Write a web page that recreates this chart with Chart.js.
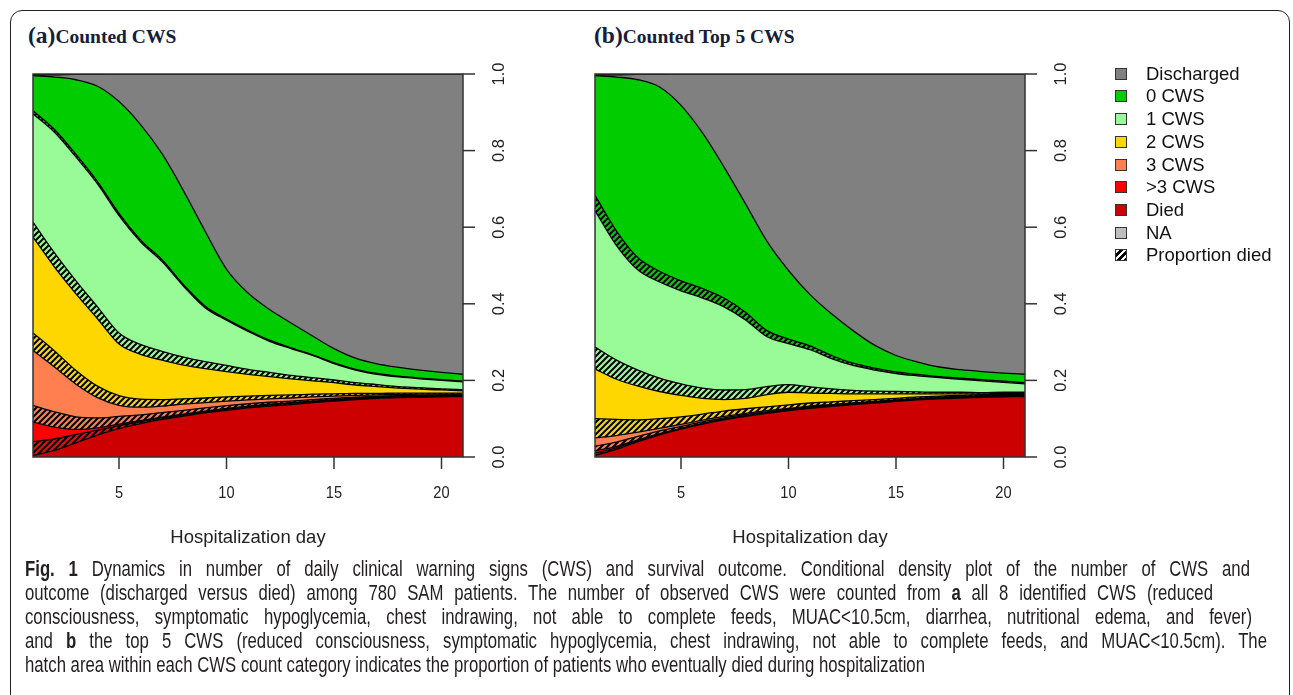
<!DOCTYPE html>
<html>
<head>
<meta charset="utf-8">
<script src="https://cdn.jsdelivr.net/npm/chart.js@4"></script>
<style>
  body { margin: 0; background: #fff; width: 1293px; height: 695px; overflow: hidden; position: relative; font-family: "Liberation Sans", Arial, sans-serif; }
  .frame { position: absolute; left: 10px; top: 10px; width: 1280px; height: 760px; border: 1.5px solid #222; border-radius: 12px; box-sizing: border-box; }
  .ptitle { position: absolute; top: 23px; line-height: 24px; font-family: "Liberation Serif", "Times New Roman", serif; font-weight: bold; color: #14203a; white-space: nowrap; }
  .ptitle .tag { font-size: 23.5px; }
  .ptitle .txt { font-size: 19.5px; }
  canvas { position: absolute; top: 0; }
  .leg { position: absolute; left: 1115px; font-size: 18.5px; color: #111; white-space: nowrap; }
  .leg .sw { position: absolute; left: 0; top: 5px; width: 10px; height: 10px; border: 1px solid #333; }
  .leg .lab { position: absolute; left: 31px; top: 0; line-height: 21px; }
  .cap { position: absolute; left: 25px; font-size: 21.5px; line-height: 23px; color: #231f20; white-space: nowrap; transform-origin: 0 50%; font-family: "Liberation Sans", Arial, sans-serif; }
</style>
</head>
<body>
<div class="frame"></div>
<div class="ptitle" style="left:28px"><span class="tag">(a)</span><span class="txt">Counted CWS</span></div>
<div class="ptitle" style="left:594px"><span class="tag">(b)</span><span class="txt">Counted Top 5 CWS</span></div>
<canvas id="panelA" width="600" height="560" style="left:0"></canvas>
<canvas id="panelB" width="600" height="560" style="left:562px"></canvas>
<div id="legend"></div>
<div id="caption">
  <div class="cap" style="top:558px"><b>Fig. 1</b> Dynamics in number of daily clinical warning signs (CWS) and survival outcome. Conditional density plot of the number of CWS and</div>
  <div class="cap" style="top:582px">outcome (discharged versus died) among 780 SAM patients. The number of observed CWS were counted from <b>a</b> all 8 identified CWS (reduced</div>
  <div class="cap" style="top:606px">consciousness, symptomatic hypoglycemia, chest indrawing, not able to complete feeds, MUAC&lt;10.5cm, diarrhea, nutritional edema, and fever)</div>
  <div class="cap" style="top:630px">and <b>b</b> the top 5 CWS (reduced consciousness, symptomatic hypoglycemia, chest indrawing, not able to complete feeds, and MUAC&lt;10.5cm). The</div>
  <div class="cap" style="top:654px">hatch area within each CWS count category indicates the proportion of patients who eventually died during hospitalization</div>
</div>
<script>
// hospitalization days 1..21
const days = [1, 2, 3, 4, 5, 6, 7, 8, 9, 10, 11, 12, 13, 14, 15, 16, 17, 18, 19, 20, 21];
const xTicks = [5, 10, 15, 20];
const yTicks = [0, 0.2, 0.4, 0.6, 0.8, 1.0];

// upper edge (cumulative proportion) of each layer
// panel a: counted CWS
const aDied       = [0.004, 0.017, 0.037, 0.057, 0.074, 0.087, 0.098, 0.107, 0.115, 0.122, 0.128, 0.133, 0.137, 0.142, 0.146, 0.150, 0.153, 0.155, 0.156, 0.157, 0.158];
const aOver3Died  = [0.040, 0.047, 0.059, 0.070, 0.082, 0.092, 0.102, 0.110, 0.118, 0.125, 0.131, 0.136, 0.140, 0.144, 0.148, 0.152, 0.155, 0.157, 0.158, 0.159, 0.159];
const aOver3      = [0.091, 0.078, 0.072, 0.076, 0.086, 0.095, 0.104, 0.112, 0.120, 0.127, 0.133, 0.138, 0.142, 0.146, 0.150, 0.153, 0.156, 0.158, 0.159, 0.160, 0.160];
const a3Died      = [0.135, 0.118, 0.105, 0.102, 0.106, 0.110, 0.116, 0.122, 0.128, 0.134, 0.139, 0.143, 0.146, 0.150, 0.153, 0.156, 0.158, 0.160, 0.161, 0.162, 0.162];
const a3          = [0.278, 0.235, 0.190, 0.155, 0.135, 0.130, 0.133, 0.138, 0.142, 0.146, 0.149, 0.152, 0.154, 0.157, 0.159, 0.161, 0.162, 0.163, 0.164, 0.164, 0.164];
const a2Died      = [0.324, 0.277, 0.226, 0.185, 0.160, 0.151, 0.150, 0.152, 0.154, 0.157, 0.159, 0.161, 0.162, 0.164, 0.165, 0.166, 0.166, 0.167, 0.167, 0.167, 0.167];
const a2          = [0.574, 0.496, 0.426, 0.361, 0.295, 0.268, 0.253, 0.240, 0.231, 0.223, 0.216, 0.210, 0.204, 0.199, 0.194, 0.188, 0.184, 0.180, 0.177, 0.175, 0.173];
const a1Died      = [0.613, 0.533, 0.460, 0.392, 0.324, 0.294, 0.276, 0.261, 0.249, 0.239, 0.229, 0.221, 0.213, 0.207, 0.201, 0.194, 0.189, 0.184, 0.181, 0.178, 0.176];
const a1          = [0.896, 0.848, 0.783, 0.713, 0.630, 0.562, 0.510, 0.446, 0.390, 0.357, 0.328, 0.302, 0.283, 0.265, 0.244, 0.227, 0.216, 0.209, 0.204, 0.200, 0.196];
const a0Died      = [0.904, 0.855, 0.790, 0.719, 0.636, 0.567, 0.515, 0.450, 0.394, 0.360, 0.331, 0.305, 0.285, 0.267, 0.246, 0.229, 0.218, 0.211, 0.206, 0.202, 0.198];
const a0          = [0.996, 0.992, 0.985, 0.968, 0.928, 0.868, 0.792, 0.695, 0.590, 0.490, 0.428, 0.385, 0.350, 0.316, 0.283, 0.258, 0.243, 0.234, 0.227, 0.221, 0.216];
const aDischarged = [0.998, 0.998, 0.999, 0.999, 1, 1, 1, 1, 1, 1, 1, 1, 1, 1, 1, 1, 1, 1, 1, 1, 1];

// panel b: counted top 5 CWS
const bDied       = [0.004, 0.020, 0.040, 0.058, 0.073, 0.086, 0.097, 0.106, 0.114, 0.121, 0.127, 0.132, 0.137, 0.141, 0.145, 0.149, 0.152, 0.154, 0.156, 0.157, 0.158];
const bOver3Died  = [0.010, 0.024, 0.043, 0.060, 0.074, 0.087, 0.098, 0.107, 0.115, 0.122, 0.128, 0.133, 0.138, 0.142, 0.146, 0.150, 0.153, 0.155, 0.157, 0.158, 0.159];
const bOver3      = [0.016, 0.028, 0.045, 0.061, 0.075, 0.088, 0.099, 0.108, 0.116, 0.123, 0.129, 0.134, 0.139, 0.143, 0.147, 0.151, 0.154, 0.156, 0.158, 0.159, 0.160];
const b3Died      = [0.028, 0.039, 0.054, 0.068, 0.080, 0.092, 0.102, 0.111, 0.118, 0.125, 0.131, 0.136, 0.140, 0.144, 0.148, 0.152, 0.155, 0.157, 0.159, 0.160, 0.161];
const b3          = [0.050, 0.056, 0.065, 0.075, 0.085, 0.096, 0.106, 0.114, 0.121, 0.127, 0.133, 0.137, 0.141, 0.145, 0.149, 0.153, 0.156, 0.158, 0.160, 0.161, 0.162];
const b2Died      = [0.100, 0.098, 0.097, 0.100, 0.105, 0.112, 0.120, 0.126, 0.131, 0.136, 0.141, 0.144, 0.147, 0.150, 0.153, 0.157, 0.159, 0.161, 0.163, 0.163, 0.164];
const b2          = [0.230, 0.203, 0.185, 0.171, 0.161, 0.153, 0.150, 0.153, 0.163, 0.169, 0.167, 0.166, 0.165, 0.165, 0.165, 0.165, 0.165, 0.165, 0.165, 0.166, 0.166];
const b1Died      = [0.287, 0.253, 0.227, 0.206, 0.191, 0.180, 0.175, 0.176, 0.184, 0.189, 0.183, 0.178, 0.174, 0.172, 0.171, 0.170, 0.169, 0.169, 0.168, 0.169, 0.169];
const b1          = [0.643, 0.552, 0.488, 0.457, 0.434, 0.415, 0.392, 0.358, 0.314, 0.296, 0.280, 0.257, 0.239, 0.227, 0.218, 0.212, 0.207, 0.203, 0.199, 0.195, 0.191];
const b0Died      = [0.683, 0.590, 0.520, 0.485, 0.460, 0.440, 0.415, 0.378, 0.330, 0.308, 0.290, 0.265, 0.245, 0.232, 0.222, 0.216, 0.210, 0.206, 0.202, 0.198, 0.194];
const b0          = [0.996, 0.992, 0.985, 0.966, 0.918, 0.846, 0.757, 0.661, 0.563, 0.487, 0.424, 0.374, 0.330, 0.292, 0.265, 0.248, 0.235, 0.228, 0.223, 0.219, 0.216];
const bDischarged = [0.998, 0.998, 0.999, 0.999, 1, 1, 1, 1, 1, 1, 1, 1, 1, 1, 1, 1, 1, 1, 1, 1, 1];

const naTop = days.map(() => 1);

const legendLabels = ["Discharged", "0 CWS", "1 CWS", "2 CWS", "3 CWS", ">3 CWS", "Died", "NA", "Proportion died"];
const legendColors = ["#808080", "#00cc00", "#98fb98", "#ffd700", "#ff7f50", "#ff0000", "#cc0000", "#bebebe", null];

// caption: justified lines end at these widths, the last line is left ragged
const captionWidths = [1225, 1188, 1227, 1242, 900];

// layer colours bottom to top, hatched = part that died
const layerColors = ["#cc0000", "#ff0000", "#ff0000", "#ff7f50", "#ff7f50", "#ffd700", "#ffd700", "#98fb98", "#98fb98", "#00cc00", "#00cc00", "#808080", "#bebebe"];
const layerHatched = [false, true, false, true, false, true, false, true, false, true, false, false, false];

function hatch(ctx, color) {
  const s = 6;
  const tile = document.createElement("canvas");
  tile.width = tile.height = s;
  const g = tile.getContext("2d");
  g.fillStyle = color;
  g.fillRect(0, 0, s, s);
  g.strokeStyle = "#000";
  g.lineWidth = 2;
  g.beginPath();
  g.moveTo(0, s); g.lineTo(s, 0);
  g.moveTo(-s / 2, s / 2); g.lineTo(s / 2, -s / 2);
  g.moveTo(s / 2, s * 1.5); g.lineTo(s * 1.5, s / 2);
  g.stroke();
  return ctx.createPattern(tile, "repeat");
}

const axesPlugin = {
  id: "rAxes",
  afterDraw(chart) {
    const { ctx, chartArea: a, scales: { x, y } } = chart;
    ctx.save();
    ctx.strokeStyle = "#333";
    ctx.lineWidth = 1.5;
    ctx.strokeRect(a.left, a.top, a.right - a.left, a.bottom - a.top);
    ctx.fillStyle = "#222";
    ctx.textAlign = "center";
    ctx.textBaseline = "middle";
    ctx.font = '16.5px "Liberation Sans", Arial, sans-serif';
    for (const v of yTicks) {
      const py = y.getPixelForValue(v);
      ctx.beginPath(); ctx.moveTo(a.right, py); ctx.lineTo(a.right + 12, py); ctx.stroke();
      ctx.save();
      ctx.translate(a.right + 36, py);
      ctx.rotate(-Math.PI / 2);
      ctx.fillText(v.toFixed(1), 0, 0);
      ctx.restore();
    }
    for (const d of xTicks) {
      const px = x.getPixelForValue(d);
      ctx.beginPath(); ctx.moveTo(px, a.bottom); ctx.lineTo(px, a.bottom + 12); ctx.stroke();
      ctx.save();
      ctx.translate(px, a.bottom + 36);
      ctx.scale(0.86, 1);
      ctx.font = '17px "Liberation Sans", Arial, sans-serif';
      ctx.fillText(String(d), 0, 0);
      ctx.restore();
    }
    ctx.font = '18.5px "Liberation Sans", Arial, sans-serif';
    ctx.fillText("Hospitalization day", (a.left + a.right) / 2, 538);
    ctx.restore();
  }
};

function makePanel(id, edges) {
  const canvas = document.getElementById(id);
  const ctx = canvas.getContext("2d");
  const datasets = edges.map((edge, i) => ({
    data: days.map((d, k) => ({ x: d, y: edge[k] })),
    fill: i === 0 ? "origin" : "-1",
    backgroundColor: layerHatched[i] ? hatch(ctx, layerColors[i]) : layerColors[i],
    borderColor: "#000",
    borderWidth: 1.3,
    pointRadius: 0,
    cubicInterpolationMode: "monotone"
  }));
  return new Chart(ctx, {
    type: "line",
    data: { datasets },
    options: {
      responsive: false,
      animation: false,
      events: [],
      layout: { padding: { left: 33, top: 74, right: 137, bottom: 103 } },
      plugins: { legend: { display: false }, tooltip: { enabled: false } },
      scales: {
        x: { type: "linear", min: 1, max: 21, display: false },
        y: { min: 0, max: 1, display: false }
      }
    },
    plugins: [axesPlugin]
  });
}

makePanel("panelA", [aDied, aOver3Died, aOver3, a3Died, a3, a2Died, a2, a1Died, a1, a0Died, a0, aDischarged, naTop]);
makePanel("panelB", [bDied, bOver3Died, bOver3, b3Died, b3, b2Died, b2, b1Died, b1, b0Died, b0, bDischarged, naTop]);

// legend
const legend = document.getElementById("legend");
legendLabels.forEach((label, i) => {
  const row = document.createElement("div");
  row.className = "leg";
  row.style.top = (73.3 + i * 22.68 - 10.5) + "px";
  const sw = document.createElement("span");
  sw.className = "sw";
  sw.style.background = legendColors[i] ||
    "repeating-linear-gradient(135deg, #fff 0 2.5px, #000 2.5px 5px)";
  const lab = document.createElement("span");
  lab.className = "lab";
  lab.textContent = label;
  row.appendChild(sw);
  row.appendChild(lab);
  legend.appendChild(row);
});

// caption: condensed face (scale taken from the ragged last line), other lines justified
const caps = Array.from(document.querySelectorAll(".cap"));
const last = caps.length - 1;
const squeeze = captionWidths[last] / caps[last].getBoundingClientRect().width;
caps.forEach((c, i) => {
  if (i < last) {
    const w = c.getBoundingClientRect().width;
    const gaps = (c.textContent.match(/ /g) || []).length;
    c.style.wordSpacing = ((captionWidths[i] / squeeze - w) / gaps) + "px";
  }
  c.style.transform = "scaleX(" + squeeze + ")";
});
</script>
</body>
</html>
